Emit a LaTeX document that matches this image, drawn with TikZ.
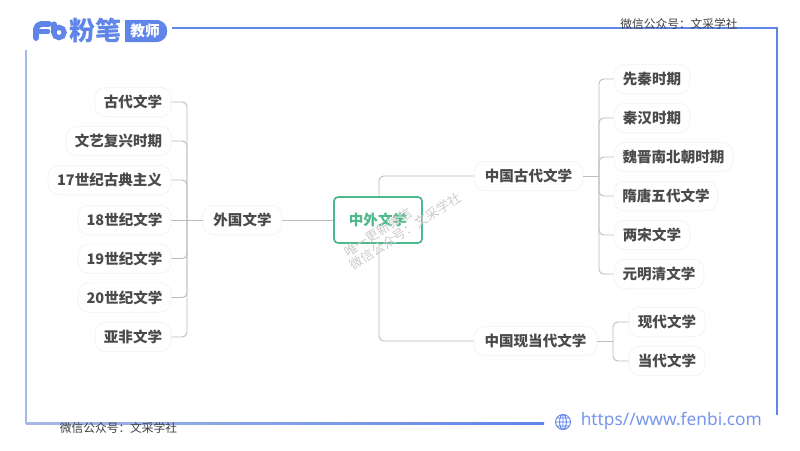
\documentclass[tikz,border=0pt]{standalone}
\usepackage{fontspec}
\setmainfont{Noto Sans CJK SC}
\newfontfamily\urlfont{Noto Sans}
\definecolor{fbblue}{HTML}{5F85E8}
\definecolor{fbleft}{HTML}{A5B9E6}
\definecolor{ink}{HTML}{4A4A4A}
\definecolor{conn}{HTML}{BDBDBD}
\definecolor{rootg}{HTML}{4DB98A}
\tikzset{
 x=0.75pt,y=-0.75pt,
 topic/.style={draw=black!5,line width=.5pt,rounded corners=8pt,fill=white,inner sep=0pt,minimum height=22pt,anchor=center,font=\fontsize{10.9}{12}\selectfont\bfseries,text=ink},
 link/.style={draw=conn,line width=.7pt,rounded corners=3.5pt},
 frameline/.style={draw=fbblue,line width=1.4pt},
 wm/.style={font=\fontsize{9.7}{11}\selectfont,text=black!20,rotate=33},
 note/.style={font=\fontsize{8.8}{10}\selectfont,text=black!75},
}
\newcommand{\topicnode}[5]{\node[topic,minimum width=#4*0.75pt] (#1) at (#2,#3) {\raisebox{-1.2pt}{#5}};}
\begin{document}
\begin{tikzpicture}
\useasboundingbox (0,0) rectangle (800,450);
\fill[white] (0,0) rectangle (800,450);
% frame
\draw[frameline] (172,28) -- (777,28) -- (777,415);
\draw[draw=fbleft,line width=1.4pt] (26,50) -- (26,423.7);
\shade[left color=fbleft,right color=fbblue] (26,422.3) rectangle (544,424);
% logo
\draw[fbblue,line width=4.4pt,line cap=round,line join=round,rounded corners=4pt] (36,38) -- (36,24) -- (49,24);
\draw[fbblue,line width=3.6pt,line cap=round] (36,31.5) -- (48,31.5);
\draw[fbblue,line width=3.8pt,line cap=round] (54,24) -- (54,32);
\draw[fbblue,line width=3.8pt] (59,32.5) circle (5.2);
\node[inner sep=0pt,font=\fontsize{19.5}{21}\selectfont\bfseries,text=fbblue] (logotext) at (95,30.5) {粉笔};
\fill[fbblue] (125,20) -- (156,20) .. controls (171,20) and (171,42) .. (156,42) -- (125,42) -- cycle;
\node[inner sep=0pt,font=\fontsize{11}{12}\selectfont\bfseries,text=white] (logotag) at (145,31) {教师};
% notes
\node[note] (n1) at (679,24.5) {微信公众号：文采学社};
\node[note] (n2) at (118.5,428) {微信公众号：文采学社};
% url
\draw[fbblue,line width=.7pt] (563,422) circle (7.5) (563,422) ellipse (3.4 and 7.5) (555.5,422) -- (570.5,422) (556.5,418) -- (569.5,418) (556.5,426) -- (569.5,426) (563,414.5) -- (563,429.5);
\node[inner sep=0pt,anchor=west,font=\urlfont\fontsize{13}{14}\selectfont,text=fbblue!85] (url) at (580.5,421) {https//www.fenbi.com};
% topics
\node[draw=rootg,line width=1.3pt,rounded corners=3pt,fill=white,inner sep=0pt,minimum width=66pt,minimum height=34.5pt,font=\fontsize{10.9}{12}\selectfont\bfseries,text=rootg] (root) at (378,220) {\raisebox{-1.2pt}{中外文学}};
\topicnode{w}{242.5}{220}{79}{外国文学}
\topicnode{a}{133}{102}{76}{古代文学}
\topicnode{b}{118.5}{141}{105}{文艺复兴时期}
\topicnode{c}{109.5}{180}{123}{17世纪古典主义}
\topicnode{d}{124.5}{220}{93}{18世纪文学}
\topicnode{e}{124.5}{258.5}{93}{19世纪文学}
\topicnode{f}{124.5}{297.5}{93}{20世纪文学}
\topicnode{g}{133}{337}{76}{亚非文学}
\topicnode{cn}{528.5}{176}{109}{中国古代文学}
\topicnode{mo}{535.5}{341}{123}{中国现当代文学}
\topicnode{r1}{652}{79}{76}{先秦时期}
\topicnode{r2}{652}{118}{76}{秦汉时期}
\topicnode{r3}{673.5}{157}{119}{魏晋南北朝时期}
\topicnode{r4}{666}{196}{104}{隋唐五代文学}
\topicnode{r5}{652}{235}{76}{两宋文学}
\topicnode{r6}{659}{274}{90}{元明清文学}
\topicnode{m1}{667}{322}{76}{现代文学}
\topicnode{m2}{667}{361}{76}{当代文学}
% bus coordinates
\coordinate (busw) at (187,220);
\coordinate (busc) at (599,176);
\coordinate (busm) at (613,341);
\coordinate (busr) at (379,220);
% connectors
\foreach \k in {a,b,c,e,f,g}{
 \draw[link] (\k.east) -- (\k.east -| busw) -- (w.west -| busw);
}
\draw[link] (d.east) -- (w.west);
\foreach \k in {r1,r2,r3,r4,r5,r6}{
 \draw[link] (\k.west) -- (\k.west -| busc) -- (cn.east -| busc);
}
\draw[link] (cn.east) -- (cn.east -| busc);
\foreach \k in {m1,m2}{
 \draw[link] (\k.west) -- (\k.west -| busm) -- (mo.east -| busm);
}
\draw[link] (mo.east) -- (mo.east -| busm);
\draw[link] (w.east) -- (root.west);
\draw[link] (root.north -| busr) -- (cn.west -| busr) -- (cn.west);
\draw[link] (root.south -| busr) -- (mo.west -| busr) -- (mo.west);
% watermark
\node[wm] (wm1) at (378,232) {唯一更新微信};
\node[wm] (wm2) at (405,231.5) {微信公众号：文采学社};
\end{tikzpicture}
\end{document}
